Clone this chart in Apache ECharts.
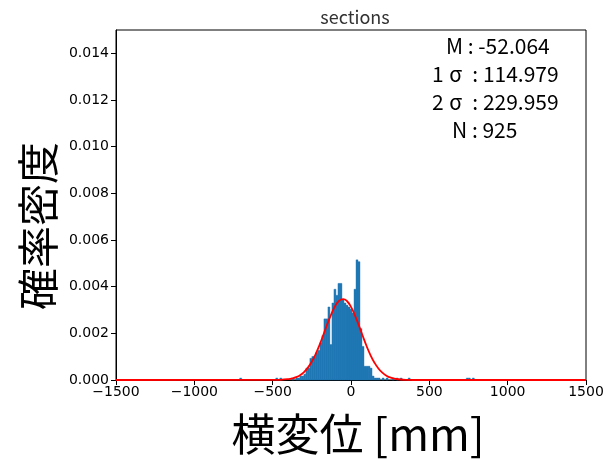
<!DOCTYPE html>
<html>
<head>
<meta charset="utf-8">
<script src="https://cdn.jsdelivr.net/npm/echarts@6/dist/echarts.min.js"></script>
<style>html,body{margin:0;padding:0;background:#fff}#c{width:607px;height:460px}</style>
</head>
<body>
<div id="c"></div>
<script>
// Histogram bins (density), bin index relative to binStart with width binWidth
const binStart = -339.3;
const binWidth = 12.8;
const binIndex = [-29, -11, -9, -3, -1,
  0, 1, 2, 3, 4, 5, 6, 7, 8, 9, 10, 11, 12, 13, 14, 15, 16, 17, 18, 19,
  20, 21, 22, 23, 24, 25, 26, 27, 28, 29, 30, 31, 32, 33, 34, 35, 36, 37, 38, 39,
  40, 42, 44, 47, 49, 51, 55, 84, 85, 87];
const binDensity = [0.000085, 0.000085, 0.000085, 0.000085, 0.000085,
  0.000085, 0.00017, 0.00017, 0.00025, 0.00051, 0.00051, 0.00093, 0.00101, 0.00101, 0.00118,
  0.00127, 0.00160, 0.00190, 0.00262, 0.00262, 0.00313, 0.00152, 0.00330, 0.00389, 0.00363,
  0.00414, 0.00414, 0.00346, 0.00330, 0.00321, 0.00313, 0.00304, 0.00287, 0.00389, 0.00515,
  0.00507, 0.00220, 0.00144, 0.00059, 0.00059, 0.00059, 0.00051, 0.00017, 0.000085, 0.000085,
  0.000085, 0.000085, 0.000085, 0.000085, 0.000085, 0.000085, 0.000085, 0.000085, 0.000085, 0.000085];

// Fitted normal curve (read at these x positions)
const curveX = [-1500, -500, -450, -400, -375, -350, -325, -300, -275, -250, -225, -200, -175, -150,
  -125, -100, -75, -50, -25, 0, 25, 50, 75, 100, 125, 150, 175, 200, 225, 250, 300, 350, 400, 1500];
const curveY = [0, 0.000002, 0.000009, 0.000036, 0.000067, 0.000121, 0.000207, 0.000339, 0.000529,
  0.000789, 0.00112, 0.001516, 0.001959, 0.002414, 0.002838, 0.003181, 0.003401, 0.003469,
  0.003375, 0.003132, 0.002772, 0.00234, 0.001884, 0.001447, 0.00106, 0.000741, 0.000494,
  0.000314, 0.00019, 0.00011, 0.000032, 0.000008, 0.000001, 0];

const xTicks = [-1500, -1000, -500, 0, 500, 1000, 1500];
const yTicks = [0, 0.002, 0.004, 0.006, 0.008, 0.010, 0.012, 0.014];

const title = 'sections';
const statLines = [['M', '', ' : -52.064'], ['1', 'σ', ' : 114.979'], ['2', 'σ', ' : 229.959'], ['N', '', ' : 925']];
const xName = '横変位 [mm]';
const yName = '確率密度';

const barData = binIndex.map((k, i) => [binStart + k * binWidth, binStart + (k + 1) * binWidth, binDensity[i]]);
const curveData = curveX.map((x, i) => [x, curveY[i]]);

const chart = echarts.init(document.getElementById('c'));
const tickFont = { fontFamily: 'DejaVu Sans', fontSize: 14, color: '#000' };
const statLeft = [446, 432, 432, 452];
const statFont = 'Noto Sans CJK JP';
chart.setOption({
  animation: false,
  backgroundColor: '#fff',
  grid: { left: 116, right: 21, top: 30, bottom: 80, show: true, borderColor: '#000', borderWidth: 1, backgroundColor: 'transparent' },
  title: { text: title, left: 350, top: 3, textAlign: 'center',
    textStyle: { fontFamily: 'Noto Sans CJK JP', fontSize: 18, fontWeight: 'normal', color: '#333' } },
  xAxis: {
    type: 'value', min: -1500, max: 1500, interval: 500,
    splitLine: { show: false },
    axisLine: { show: true, onZero: false, lineStyle: { color: '#000', width: 1 } },
    axisTick: { show: true, length: 5, lineStyle: { color: '#000' }, customValues: xTicks },
    axisLabel: Object.assign({ margin: 5, customValues: xTicks, formatter: v => String(v).replace('-', '\u2212') }, tickFont)
  },
  yAxis: {
    type: 'value', min: 0, max: 0.015,
    splitLine: { show: false },
    axisLine: { show: true, onZero: false, lineStyle: { color: '#000', width: 1 } },
    axisTick: { show: true, length: 5, lineStyle: { color: '#000' }, customValues: yTicks },
    axisLabel: Object.assign({ margin: 7, customValues: yTicks, formatter: v => v.toFixed(3) }, tickFont)
  },
  series: [
    {
      type: 'custom',
      data: barData,
      encode: { x: [0, 1], y: 2 },
      renderItem: function (params, api) {
        const p0 = api.coord([api.value(0), api.value(2)]);
        const p1 = api.coord([api.value(1), 0]);
        return { type: 'rect', shape: { x: p0[0], y: p0[1], width: p1[0] - p0[0], height: p1[1] - p0[1] },
          style: { fill: '#1f77b4', stroke: '#1f77b4', lineWidth: 0.4 } };
      },
      z: 2
    },
    {
      type: 'line', data: curveData, smooth: true, showSymbol: false,
      lineStyle: { color: '#ff0000', width: 1.8 }, z: 3
    }
  ],
  graphic: [
    { type: 'text', x: 358, y: 434, style: { text: xName, fontFamily: 'Noto Sans CJK JP', fontSize: 44, fill: '#000', align: 'center', verticalAlign: 'middle' } },
    { type: 'text', x: 38, y: 226, rotation: Math.PI / 2,
      style: { text: yName, fontFamily: 'Noto Sans CJK JP', fontSize: 42, fill: '#000', align: 'center', verticalAlign: 'middle' } }
  ].concat(statLines.map((t, i) => ({
    type: 'text', x: statLeft[i], y: 46 + i * 28,
    style: {
      text: '{a|' + t[0] + '}' + (t[1] ? '{s|' + t[1] + '}' : '') + '{b|' + t[2] + '}',
      verticalAlign: 'middle',
      rich: {
        a: { fontFamily: statFont, fontSize: 21, color: '#333' },
        s: { fontFamily: statFont, fontSize: 21, color: '#333', width: 24, align: 'center' },
        b: { fontFamily: statFont, fontSize: 21, color: '#333' }
      }
    }
  })))
});
</script>
</body>
</html>
